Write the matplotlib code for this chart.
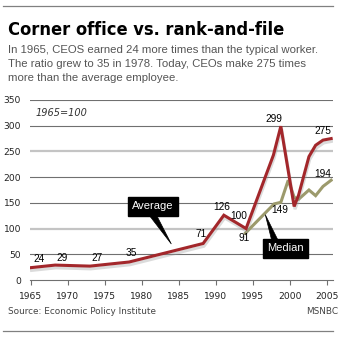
import matplotlib
matplotlib.use("Agg")
import matplotlib.pyplot as plt
import matplotlib.patheffects as pe
from matplotlib.patches import Polygon
from matplotlib.lines import Line2D

# Average CEO pay ratio
avg_years = [1965, 1968.3, 1973, 1978.3, 1988.3, 1991.1, 1994.1, 1997.8, 1998.8,
             2000.6, 2001.2, 2002.6, 2003.5, 2004.5, 2005.6]
avg_values = [24, 29, 27, 35, 71, 126, 100, 243, 299,
              143, 165, 240, 262, 272, 275]

# Median CEO pay ratio
med_years = [1994.0, 1997.9, 1998.8, 1999.8, 2000.6, 2001.2, 2002.6, 2003.5, 2004.5, 2005.6]
med_values = [91, 148, 151, 194, 161, 157, 175, 164, 182, 194]

# value labels: text, x, y
point_labels = [("24", 1966.1, 40), ("29", 1969.2, 43), ("27", 1974.0, 43),
                ("35", 1978.6, 52), ("71", 1988.0, 89), ("126", 1990.8, 141),
                ("100", 1993.1, 125), ("91", 1993.8, 82), ("149", 1998.6, 136),
                ("299", 1997.9, 313), ("275", 2004.5, 289), ("194", 2004.5, 206)]

x_ticks = [1965, 1970, 1975, 1980, 1985, 1990, 1995, 2000, 2005]
y_ticks = [0, 50, 100, 150, 200, 250, 300, 350]

title = "Corner office vs. rank-and-file"
subtitle = ["In 1965, CEOS earned 24 more times than the typical worker.",
            "The ratio grew to 35 in 1978. Today, CEOs make 275 times",
            "more than the average employee."]

red = "#a3272b"
olive = "#9c9a6c"
W, H = 353, 339

fig = plt.figure(figsize=(W / 100, H / 100), dpi=100)
ax = fig.add_axes([30 / W, (H - 280) / H, 303 / W, 180 / H])
ax.set_xlim(1964.9, 2005.85)
ax.set_ylim(0, 350)

# gridlines (some of them look blurred / lighter in the original)
for y in y_ticks[1:]:
    if y in (100, 250):
        ax.axhline(y, color="#c4c4c4", lw=1.6, zorder=1)
    else:
        ax.axhline(y, color="#707070", lw=0.8, zorder=1)

for s in ["top", "right", "left"]:
    ax.spines[s].set_visible(False)
ax.spines["bottom"].set_color("#707070")
ax.spines["bottom"].set_linewidth(0.8)

ax.set_xticks(x_ticks)
ax.set_yticks(y_ticks)
ax.tick_params(axis="x", length=3.5, width=0.8, color="#707070", pad=5,
               labelsize=6.6, labelcolor="#222222")
ax.tick_params(axis="y", length=0, pad=6.5, labelsize=6.6, labelcolor="#222222")
for lab in ax.get_xticklabels() + ax.get_yticklabels():
    lab.set_family("DejaVu Sans")

ax.plot(med_years, med_values, color=olive, lw=2.2, zorder=3,
        solid_joinstyle="miter")
ax.plot(avg_years, avg_values, color=red, lw=2.2, zorder=4,
        solid_joinstyle="miter",
        path_effects=[pe.SimpleLineShadow(offset=(0.6, -2.0), shadow_color="#999999", alpha=0.35),
                      pe.Normal()])

for txt, x, y in point_labels:
    ax.text(x, y, txt, ha="center", va="center", fontsize=7.3,
            family="Liberation Sans", color="black", zorder=5)

ax.text(1965.7, 325, "1965=100", fontsize=7, style="italic", color="#333333",
        family="DejaVu Sans", va="center")

# callout boxes
ax.text(1981.5, 143, "Average", ha="center", va="center", fontsize=8,
        family="Liberation Sans", color="white", zorder=6,
        bbox=dict(boxstyle="square,pad=0.4", fc="black", ec="black"))
ax.add_patch(Polygon([[1981.0, 126], [1982.0, 126], [1984.0, 70]],
                     closed=True, fc="black", ec="black", lw=0.5, zorder=6))
ax.text(1999.4, 62, "Median", ha="center", va="center", fontsize=8,
        family="Liberation Sans", color="white", zorder=6,
        bbox=dict(boxstyle="square,pad=0.4", fc="black", ec="black"))
ax.add_patch(Polygon([[1997.6, 75], [1998.5, 75], [1996.7, 127]],
                     closed=True, fc="black", ec="black", lw=0.5, zorder=6))

# header
fig.text(8 / W, 1 - 30 / H, title, fontsize=13.1, fontweight="bold",
         family="DejaVu Sans", stretch="condensed", va="center", color="black")
for i, line in enumerate(subtitle):
    fig.text(8 / W, 1 - (50 + 14 * i) / H, line, fontsize=8.2,
             family="Liberation Sans", color="#555555", va="center")

# footer
fig.text(8 / W, 1 - 312 / H, "Source: Economic Policy Institute", fontsize=6.4,
         family="DejaVu Sans", color="#444444", va="center")
fig.text(338 / W, 1 - 312 / H, "MSNBC", fontsize=6.4, family="DejaVu Sans",
         color="#444444", va="center", ha="right")

# rules at top and bottom
fig.add_artist(Line2D([3 / W, 333 / W], [1 - 6 / H, 1 - 6 / H], color="#808080", lw=0.9))
fig.add_artist(Line2D([3 / W, 333 / W], [1 - 331 / H, 1 - 331 / H], color="#808080", lw=0.9))

fig.savefig("out.png", dpi=100)
